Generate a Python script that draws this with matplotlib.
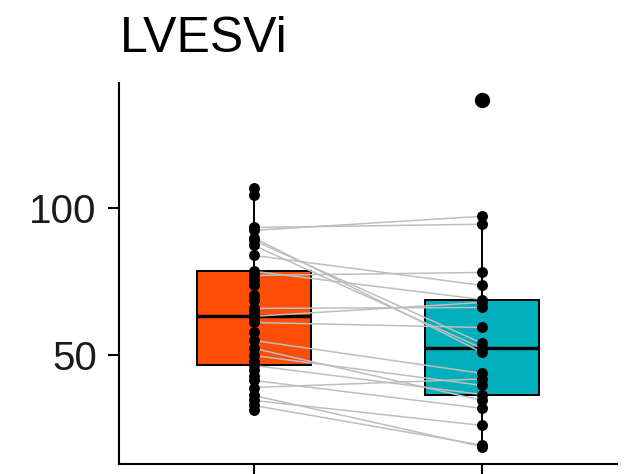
import matplotlib
matplotlib.use("Agg")
import matplotlib.pyplot as plt
import numpy as np

plt.rcParams['font.family'] = ['Liberation Sans', 'DejaVu Sans']

title = "LVESVi"
groups = ["Pre", "Post"]
colors = ["#FC4E07", "#00AFBB"]

# paired observations (pre -> post)
paired_pre = [92.5, 93.5, 77.2, 84.0, 78.6, 63.3, 66.0, 61.2, 89.1, 87.4,
              90.0, 55.1, 39.1, 50.0, 46.6, 52.4, 41.5, 34.7, 33.0, 36.4]
paired_post = [97.3, 94.6, 78.2, 73.8, 69.0, 68.0, 66.3, 59.5, 54.1, 52.4,
               51.0, 43.9, 42.0, 39.8, 36.7, 34.7, 32.0, 26.2, 19.5, 19.0]
# unpaired observations
pre_only = [31.3, 43.0, 45.0, 48.0, 58.0, 62.0, 65.0, 68.7, 70.4, 73.8,
            75.5, 104.4, 106.8]
post_only = [136.7]

yticks = [50, 100]

pre_all = np.array(paired_pre + pre_only)
post_all = np.array(paired_post + post_only)

W, H = 628, 474
fig = plt.figure(figsize=(W / 100, H / 100), dpi=100)
ax = fig.add_axes([119 / W, 10 / H, (617 - 119) / W, (464 - 83) / H])

bp = ax.boxplot([pre_all, post_all], positions=[1, 2], widths=0.5,
                patch_artist=True, showcaps=False, whis=1.5,
                medianprops=dict(color="black", linewidth=2.4),
                whiskerprops=dict(color="black", linewidth=1.4),
                boxprops=dict(edgecolor="black", linewidth=1.4),
                flierprops=dict(marker="o", markerfacecolor="black",
                                markeredgecolor="black", markersize=10),
                zorder=1)
for patch, c in zip(bp["boxes"], colors):
    patch.set_facecolor(c)

for a, b in zip(paired_pre, paired_post):
    ax.plot([1, 2], [a, b], color="#BEBEBE", linewidth=1.1, zorder=3)

ax.scatter(np.full(len(pre_all), 1), pre_all, s=62, color="black", zorder=4,
           linewidths=0)
ax.scatter(np.full(len(post_all), 2), post_all, s=62, color="black", zorder=4,
           linewidths=0)

ax.set_xlim(0.41, 2.59)
ax.set_ylim(13.1, 142.6)
ax.set_yticks(yticks)
ax.set_yticklabels([str(t) for t in yticks])
ax.set_xticks([1, 2])
ax.set_xticklabels(["", ""])

for s in ["top", "right"]:
    ax.spines[s].set_visible(False)
for s in ["left", "bottom"]:
    ax.spines[s].set_linewidth(1.5)
    ax.spines[s].set_color("black")
ax.tick_params(axis="both", length=8, width=1.5, color="black",
               labelsize=29, labelcolor="#1a1a1a", pad=8)

fig.text(120 / W, 1 - 52 / H, title, fontsize=36, ha="left", va="baseline",
         color="black")

fig.savefig("out.png", dpi=100)
